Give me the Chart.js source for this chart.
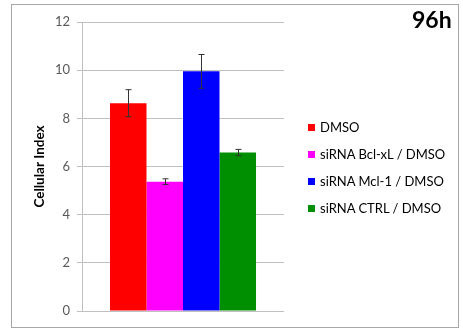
<!DOCTYPE html>
<html>
<head>
<meta charset="utf-8">
<script src="https://cdn.jsdelivr.net/npm/chart.js@4"></script>
<style>
  body { margin: 0; background: #fff; font-family: Lato, 'Liberation Sans', sans-serif; }
  #wrap { position: relative; width: 463px; height: 329px; }
  #frame { position: absolute; left: 11px; top: 4px; width: 446px; height: 322px; border: 1.5px solid #a6a6a6; }
  #chartBox { position: absolute; left: 0; top: 0; width: 463px; height: 329px; }
  #title { position: absolute; left: 412px; top: 5px; font-size: 23px; font-weight: bold; color: #000; }
  #legend { position: absolute; left: 308px; top: 118px; font-size: 13px; color: #000; }
  #legend div { height: 27px; line-height: 18px; white-space: nowrap; }
  #legend span.sw { display: inline-block; width: 7px; height: 7px; margin-right: 5px; vertical-align: 1px; }
</style>
</head>
<body>
<div id="wrap">
  <div id="frame"></div>
  <div id="chartBox"><canvas id="barChart"></canvas></div>
  <div id="title">96h</div>
  <div id="legend"></div>
</div>
<script>
const groups = ['DMSO', 'siRNA Bcl-xL / DMSO', 'siRNA Mcl-1 / DMSO', 'siRNA CTRL / DMSO'];
const cellIndex = [8.63, 5.37, 9.95, 6.58];
const errors = [0.56, 0.12, 0.70, 0.13];
const colors = ['#ff0000', '#ff00ff', '#0000ff', '#008f00'];
const yTicks = [0, 2, 4, 6, 8, 10, 12];

const errorBars = {
  id: 'errorBars',
  afterDatasetsDraw(chart) {
    const ctx = chart.ctx;
    const y = chart.scales.y;
    ctx.save();
    ctx.strokeStyle = '#333';
    ctx.lineWidth = 1;
    chart.data.datasets.forEach((ds, i) => {
      const bar = chart.getDatasetMeta(i).data[0];
      const x = Math.round(bar.x) + 0.5;
      const top = y.getPixelForValue(ds.data[0] + errors[i]);
      const bot = y.getPixelForValue(ds.data[0] - errors[i]);
      ctx.beginPath();
      ctx.moveTo(x, top); ctx.lineTo(x, bot);
      ctx.moveTo(x - 3, top); ctx.lineTo(x + 3, top);
      ctx.moveTo(x - 3, bot); ctx.lineTo(x + 3, bot);
      ctx.stroke();
    });
    ctx.restore();
  }
};

function renderBarChart() {
  const ctx = document.getElementById('barChart').getContext('2d');
  new Chart(ctx, {
    type: 'bar',
    data: {
      labels: [''],
      datasets: groups.map((g, i) => ({
        label: g,
        data: [cellIndex[i]],
        backgroundColor: colors[i]
      }))
    },
    options: {
      responsive: true,
      maintainAspectRatio: false,
      animation: false,
      layout: { padding: { left: 0, top: 22, right: 179, bottom: 18 } },
      datasets: { bar: { barPercentage: 1, categoryPercentage: 0.723 } },
      plugins: { legend: { display: false }, tooltip: { enabled: false } },
      scales: {
        x: { display: false },
        y: {
          min: 0, max: 12,
          afterBuildTicks: s => { s.ticks = yTicks.map(v => ({ value: v })); },
          afterFit: s => { s.width = 82; s.paddingTop = 0; s.paddingBottom = 0; },
          ticks: { color: '#595959', font: { size: 13, family: 'Lato' }, padding: 7 },
          grid: { color: '#c0c0c0', tickLength: 5, lineWidth: 1 },
          border: { color: '#c0c0c0' },
          title: {
            display: true, text: 'Cellular Index', color: '#000',
            font: { size: 13.5, weight: 'bold', family: 'Lato' },
            padding: { top: 32, bottom: 0 }
          }
        }
      }
    },
    plugins: [errorBars]
  });
}

function renderLegend() {
  const el = document.getElementById('legend');
  groups.forEach((g, i) => {
    const row = document.createElement('div');
    row.innerHTML = '<span class="sw" style="background:' + colors[i] + '"></span>' + g;
    el.appendChild(row);
  });
}

renderBarChart();
renderLegend();
</script>
</body>
</html>
